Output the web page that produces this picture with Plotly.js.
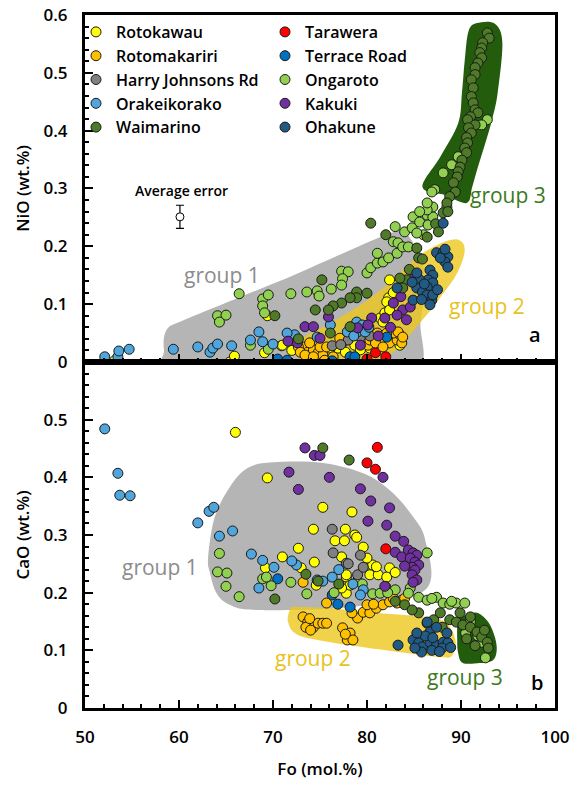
<!DOCTYPE html>
<html>
<head>
<meta charset="utf-8">
<script src="https://cdn.plot.ly/plotly-3.0.1.min.js"></script>
<style>body{margin:0;background:#fff}#chart{width:573px;height:787px}</style>
</head>
<body>
<div id="chart"></div>
<script>
// ---------------- DATA ----------------
const seriesNames = ["Rotokawau","Tarawera","Rotomakariri","Terrace Road","Harry Johnsons Rd","Ongaroto","Orakeikorako","Kakuki","Waimarino","Ohakune"];
const seriesColors = ["#ffff00","#ff0000","#ffc000","#0070c0","#808080","#92d050","#4fa5dc","#7030a0","#4f7a28","#215a84"];

// Panel a: Fo (mol.%) vs NiO (wt.%)
const rotokawau_fo_a = [53.2,65.4,65.9,69.4,69.1,70.9,71.0,76.9,81.4,81.7,81.9,82.3,82.4,83.5,82.1,82.4,76.1,78.7,80.3,77.7,79.3,82.8,72.0];
const rotokawau_nio  = [0.003,0.0,0.01,0.08,0.016,0.028,0.029,0.024,0.076,0.069,0.085,0.111,0.142,0.029,0.104,0.09,0.024,0.029,0.024,0.017,0.021,0.12,0.02];
const tarawera_fo_a = [80.0,80.9,82.0];
const tarawera_nio  = [0.005,0.016,0.009];
const rotomakariri_fo_a = [73.2,73.7,74.3,74.8,75.3,75.0,75.7,73.9,80.5,81.1,81.4,82.4,83.2,83.5,82.8,79.6,77.4,77.1,80.1,83.7,72.7,72.9,73.4,74.3,75.5,76.4,80.3,82.1,83.3,83.8,80.9,81.7];
const rotomakariri_nio  = [0.026,0.017,0.021,0.016,0.012,0.026,0.026,0.033,0.043,0.050,0.038,0.033,0.038,0.047,0.050,0.033,0.033,0.041,0.029,0.033,0.026,0.017,0.012,0.009,0.003,0.009,0.038,0.05,0.052,0.043,0.033,0.026];
const terrace_fo_a = [70.5,71.5,76.3,78.2,78.7,82.1];
const terrace_nio  = [0.005,0.003,0.002,0.009,0.009,0.043];
const harry_fo_a = [76.3,78.0,79.3,77.2,80.3];
const harry_nio  = [0.028,0.038,0.043,0.030,0.045];
const ongaroto_fo_a = [66.4,64.1,65.0,64.3,68.9,69.5,68.9,69.1,71.9,67.6,69.5,73.6,74.7,74.9,76.2,77.3,78.0,77.4,77.3,80.0,80.4,81.1,81.7,81.1,82.3,83.2,82.8,83.3,83.8,84.4,83.0,84.0,84.8,84.9,85.6,86.4,86.5,87.0,86.0,85.3,88.5,87.0,86.4,85.6,92.8,92.2,89.7,89.0,88.1,87.2,86.9,86.4];
const ongaroto_nio  = [0.118,0.08,0.081,0.069,0.109,0.116,0.097,0.085,0.118,0.029,0.022,0.121,0.123,0.114,0.126,0.157,0.156,0.144,0.133,0.154,0.163,0.171,0.173,0.188,0.180,0.188,0.208,0.206,0.199,0.199,0.234,0.225,0.232,0.251,0.242,0.254,0.237,0.251,0.220,0.223,0.268,0.268,0.263,0.26,0.419,0.41,0.355,0.341,0.327,0.298,0.294,0.275];
const orakei_fo_a = [52.1,53.5,53.6,54.7,59.4,62.0,63.3,63.6,64.1,65.6,67.6,68.5,68.9,70.0,72.3,78.9,79.5,78.4,79.0,77.9,79.8,76.1,74.7,71.5,78.6,80.2];
const orakei_nio  = [0.009,0.009,0.019,0.022,0.022,0.026,0.017,0.024,0.031,0.028,0.038,0.052,0.035,0.031,0.047,0.069,0.064,0.059,0.052,0.052,0.052,0.064,0.043,0.05,0.045,0.06];
const kakuki_fo_a = [71.6,82.8,83.8,84.6,85.1,83.6,83.2,84.2,81.9,80.5,80.1,79.0,75.9,73.4,74.3,75.0,72.6,79.3,82.5,81.2];
const kakuki_nio  = [0.036,0.102,0.09,0.095,0.15,0.113,0.081,0.073,0.076,0.076,0.064,0.059,0.078,0.061,0.061,0.041,0.033,0.029,0.06,0.045];
const waimarino_fo_a = [70.2,80.4,82.0,85.3,85.5,85.9,86.4,87.3,88.1,87.6,84.2,83.8,80.0,78.9,78.9,78.2,77.3,76.4,75.9,74.5,75.2,76.1,78.2,72.7,83.5,84.5,
  92.8,93.0,92.3,92.2,92.0,92.2,91.8,91.5,91.5,91.1,91.3,91.1,91.3,91.5,91.8,91.0,90.7,91.5,90.8,91.1,90.6,90.7,90.4,90.6,90.1,89.9,89.7,89.6,89.2,89.4,88.8,88.5,88.6];
const waimarino_nio  = [0.08,0.240,0.22,0.197,0.18,0.178,0.216,0.239,0.258,0.225,0.142,0.128,0.119,0.121,0.111,0.111,0.102,0.097,0.09,0.09,0.142,0.05,0.061,0.04,0.145,0.16,
  0.569,0.56,0.552,0.543,0.535,0.526,0.517,0.509,0.497,0.488,0.474,0.459,0.448,0.436,0.431,0.424,0.419,0.41,0.405,0.396,0.388,0.379,0.37,0.362,0.349,0.337,0.329,0.32,0.31,0.294,0.286,0.275,0.26];
const ohakune_fo_a = [87.4,88.1,88.6,88.3,88.6,87.8,88.1,86.7,87.0,86.5,87.0,86.4,85.6,85.3,85.9,86.4,86.9,87.0,86.7,84.9,84.8,85.3,83.2,86.1,85.8,87.5,88.3];
const ohakune_nio  = [0.189,0.189,0.182,0.173,0.164,0.18,0.24,0.159,0.15,0.142,0.137,0.13,0.142,0.128,0.121,0.116,0.107,0.116,0.099,0.107,0.138,0.154,0.128,0.135,0.108,0.125,0.195];

// Panel b: Fo (mol.%) vs CaO (wt.%)
const rotokawau_fo_b = [66.0,69.4,71.0,69.2,72.7,75.3,74.3,77.7,76.6,77.6,74.4,73.0,77.3,77.8,74.6,77.6,77.8,78.4,78.7,79.6,80.6,82.4,77.8,78.2,77.3,80.3,81.2,82.1,79.0,80.0,81.0,82.0,83.0,78.9];
const rotokawau_cao  = [0.478,0.399,0.262,0.243,0.277,0.348,0.31,0.31,0.29,0.29,0.253,0.243,0.262,0.227,0.213,0.21,0.199,0.34,0.3,0.279,0.248,0.243,0.231,0.213,0.208,0.231,0.231,0.227,0.22,0.26,0.245,0.21,0.235,0.296];
const tarawera_fo_b = [81.1,80.0,80.9,82.0];
const tarawera_cao  = [0.452,0.425,0.414,0.276];
const rotomakariri_fo_b = [73.2,75.7,73.2,73.7,74.3,74.8,75.3,75.7,73.5,73.9,74.0,77.4,78.2,77.9,78.5,77.7,79.0,79.6,80.3,81.0,81.7,82.4,83.2,83.7,80.0,78.4,80.7,82.8,84.0];
const rotomakariri_cao  = [0.218,0.182,0.158,0.149,0.14,0.147,0.147,0.147,0.14,0.155,0.135,0.139,0.13,0.118,0.118,0.128,0.156,0.166,0.165,0.173,0.179,0.184,0.182,0.187,0.179,0.165,0.18,0.19,0.19];
const terrace_fo_b = [70.5,76.3,78.2,76.9];
const terrace_cao  = [0.224,0.196,0.175,0.18];
const harry_fo_b = [76.3,76.4,77.8,79.3,79.0,79.6,78.0];
const harry_cao  = [0.31,0.269,0.251,0.265,0.231,0.244,0.25];
const ongaroto_fo_b = [64.3,64.1,65.1,65.0,66.4,68.9,69.8,71.9,73.6,69.3,86.4,84.6,80.6,81.4,85.5,86.4,87.4,88.1,88.8,89.5,90.4,84.4,90.5,92.2,92.6,83.0,82.2,86.9,89.0,91.0,91.8,79.5,76.5];
const ongaroto_cao  = [0.268,0.236,0.234,0.211,0.193,0.224,0.212,0.218,0.198,0.227,0.269,0.208,0.198,0.199,0.192,0.187,0.192,0.182,0.18,0.182,0.182,0.199,0.13,0.114,0.087,0.205,0.2,0.19,0.185,0.15,0.125,0.215,0.2];
const orakei_fo_b = [52.1,53.5,53.7,54.8,62.0,63.2,63.7,64.3,65.7,67.7,68.9,70.1,68.5,72.5,74.7,75.3,76.3,79.6,79.3,77.0,78.5,72.0];
const orakei_cao  = [0.484,0.407,0.369,0.368,0.321,0.341,0.348,0.298,0.307,0.267,0.256,0.244,0.208,0.248,0.222,0.22,0.227,0.205,0.196,0.24,0.215,0.255];
const kakuki_fo_b = [71.7,72.7,73.4,74.4,75.0,76.0,81.7,79.3,80.4,82.4,80.1,82.1,83.0,83.9,83.0,83.7,84.4,84.9,85.3,84.6,85.1,85.5,84.8,85.1,84.8,85.3,84.9,81.9,84.0];
const kakuki_cao  = [0.409,0.379,0.451,0.438,0.438,0.40,0.40,0.38,0.359,0.347,0.324,0.317,0.298,0.289,0.27,0.262,0.274,0.269,0.265,0.26,0.253,0.248,0.244,0.239,0.231,0.222,0.218,0.211,0.246];
const waimarino_fo_b = [70.2,75.3,78.1,85.5,86.4,87.1,87.8,88.8,89.5,90.2,91.0,91.7,92.2,92.8,92.9,84.0,91.0,74.8,83.0,84.8,90.6,91.5,89.9,88.0,92.5,73.5,77.0];
const waimarino_cao  = [0.189,0.451,0.43,0.165,0.147,0.153,0.165,0.153,0.149,0.144,0.14,0.132,0.123,0.114,0.104,0.179,0.158,0.22,0.185,0.17,0.12,0.108,0.165,0.14,0.135,0.232,0.215];
const ohakune_fo_b = [86.4,86.7,84.9,85.5,85.9,86.7,87.4,88.1,88.6,88.0,86.9,85.8,85.1,88.5,83.3,87.4,86.2,87.0,88.9,85.3,87.7];
const ohakune_cao  = [0.149,0.132,0.118,0.113,0.106,0.114,0.109,0.114,0.113,0.104,0.1,0.097,0.104,0.13,0.109,0.14,0.125,0.122,0.105,0.13,0.098];

// Average error marker
const avgErrFo = [60.1];
const avgErrNiO = [0.251];
const avgErrBar = [0.02];

// Group outlines [Fo, oxide]
const group1_a = [[59.2,-0.02],[58.4,0.02],[58.7,0.056],[60.6,0.073],[66,0.109],[72.3,0.151],[78,0.192],[82.2,0.221],[84.0,0.224],[85.4,0.19],[86.2,0.142],[85.7,0.07],[84.8,-0.02],[72,-0.02]];
const group2_a = [[72.0,0.03],[72.6,0.008],[75.3,-0.003],[79,0.0],[82.4,0.012],[85.6,0.067],[87.8,0.112],[89.6,0.154],[90.4,0.194],[89.6,0.212],[87.4,0.202],[84.9,0.176],[82.4,0.137],[79.6,0.102],[76.1,0.067],[73.2,0.043]];
const group3_a = [[91.7,0.586],[93.6,0.585],[94.4,0.552],[93.9,0.465],[93.3,0.419],[92.6,0.379],[91.8,0.337],[91.2,0.303],[90.6,0.275],[88.2,0.289],[85.9,0.303],[87.8,0.355],[89.7,0.413],[90.1,0.465],[90.4,0.522],[90.8,0.572]];
const group1_b = [[63.3,0.234],[63.1,0.262],[63.8,0.331],[65.4,0.383],[67.3,0.416],[70.0,0.426],[75.3,0.425],[79.6,0.407],[82.4,0.378],[84.6,0.338],[86.2,0.291],[86.2,0.205],[78.2,0.175],[68.3,0.170],[65.4,0.179],[64.0,0.199]];
const group2_b = [[71.8,0.170],[71.6,0.149],[72.6,0.127],[76.1,0.114],[82,0.1],[87.8,0.088],[89.1,0.092],[89.4,0.118],[88.3,0.149],[85.6,0.159],[80,0.166],[76.1,0.173],[72.3,0.175]];
const group3_b = [[89.7,0.153],[90.6,0.161],[91.7,0.165],[92.9,0.149],[93.6,0.123],[93.8,0.10],[93.4,0.083],[92.0,0.078],[90.2,0.078],[89.7,0.095],[89.6,0.118]];

// ---------------- BUILD ----------------
const panelA = [[rotokawau_fo_a,rotokawau_nio],[tarawera_fo_a,tarawera_nio],[rotomakariri_fo_a,rotomakariri_nio],[terrace_fo_a,terrace_nio],[harry_fo_a,harry_nio],[ongaroto_fo_a,ongaroto_nio],[orakei_fo_a,orakei_nio],[kakuki_fo_a,kakuki_nio],[waimarino_fo_a,waimarino_nio],[ohakune_fo_a,ohakune_nio]];
const panelB = [[rotokawau_fo_b,rotokawau_cao],[tarawera_fo_b,tarawera_cao],[rotomakariri_fo_b,rotomakariri_cao],[terrace_fo_b,terrace_cao],[harry_fo_b,harry_cao],[ongaroto_fo_b,ongaroto_cao],[orakei_fo_b,orakei_cao],[kakuki_fo_b,kakuki_cao],[waimarino_fo_b,waimarino_cao],[ohakune_fo_b,ohakune_cao]];

const traces = [];
seriesNames.forEach((name,i)=>{
  const mk = {color:seriesColors[i], size:10, line:{color:'#1a1a1a', width:1}};
  traces.push({type:'scatter', mode:'markers', name:name, legendgroup:name, x:panelA[i][0], y:panelA[i][1], xaxis:'x', yaxis:'y', marker:mk, cliponaxis:true});
  traces.push({type:'scatter', mode:'markers', name:name, legendgroup:name, showlegend:false, x:panelB[i][0], y:panelB[i][1], xaxis:'x2', yaxis:'y2', marker:mk, cliponaxis:true});
});
traces.push({type:'scatter', mode:'markers', x:avgErrFo, y:avgErrNiO, xaxis:'x', yaxis:'y', showlegend:false,
  marker:{color:'#fff', size:8, line:{color:'#000', width:1}},
  error_y:{type:'data', array:avgErrBar, color:'#000', thickness:1.2, width:4}});

function smoothPath(pts){
  const n = pts.length;
  let d = 'M ' + pts[0][0] + ',' + pts[0][1];
  for(let i=0;i<n;i++){
    const p0 = pts[(i-1+n)%n], p1 = pts[i], p2 = pts[(i+1)%n], p3 = pts[(i+2)%n];
    const t = 1/6;
    const c1 = [p1[0]+(p2[0]-p0[0])*t, p1[1]+(p2[1]-p0[1])*t];
    const c2 = [p2[0]-(p3[0]-p1[0])*t, p2[1]-(p3[1]-p1[1])*t];
    d += ' C ' + c1[0]+','+c1[1]+' '+c2[0]+','+c2[1]+' '+p2[0]+','+p2[1];
  }
  return d + ' Z';
}
function region(pts, xr, yr, color){
  return {type:'path', path:smoothPath(pts), xref:xr, yref:yr, fillcolor:color, line:{width:0}, layer:'below'};
}
const shapes = [
  region(group1_a,'x','y','#b5b5b5'),
  region(group2_a,'x','y','rgba(238,200,30,0.8)'),
  region(group3_a,'x','y','#245c0d'),
  region(group1_b,'x2','y2','#b5b5b5'),
  region(group2_b,'x2','y2','rgba(238,200,30,0.8)'),
  region(group3_b,'x2','y2','#245c0d')
];

const F = '"Open Sans", Lato, sans-serif';
const W = 600;
const axisBase = {showline:true, linewidth:3, linecolor:'#000', mirror:true, showgrid:false, zeroline:false,
  ticks:'inside', ticklen:8, tickwidth:2, tickcolor:'#000',
  tickfont:{family:F, size:17, color:'#000', weight:W}};
const layout = {
  width:573, height:787,
  margin:{l:85, r:18, t:15, b:79},
  paper_bgcolor:'#fff', plot_bgcolor:'#fff',
  font:{family:F, size:16, color:'#000'},
  showlegend:true,
  legend:{orientation:'h', x:0, y:1, xanchor:'left', yanchor:'top', indentation:-9, entrywidth:153, entrywidthmode:'pixels',
    bgcolor:'rgba(0,0,0,0)', borderwidth:0, traceorder:'normal', font:{family:F, size:16, color:'#000', weight:W}},
  xaxis:Object.assign({}, axisBase, {anchor:'y', domain:[0,1], range:[50,100], dtick:10, tick0:50, showticklabels:false,
    minor:{dtick:2, ticks:'inside', ticklen:4, tickwidth:2, tickcolor:'#000'}}),
  yaxis:Object.assign({}, axisBase, {anchor:'x', domain:[0.4993,1], range:[0,0.6], dtick:0.1, tick0:0, ticklabelstandoff:11,
    minor:{dtick:0.02, ticks:'inside', ticklen:4, tickwidth:2, tickcolor:'#000'},
    title:{text:'NiO (wt.%)', font:{family:F, size:17, color:'#000', weight:W}, standoff:10}}),
  xaxis2:Object.assign({}, axisBase, {anchor:'y2', domain:[0,1], range:[50,100], dtick:10, tick0:50, ticklabelstandoff:12,
    minor:{dtick:2, ticks:'inside', ticklen:4, tickwidth:2, tickcolor:'#000'},
    title:{text:'Fo (mol.%)', font:{family:F, size:17, color:'#000', weight:W}, standoff:16}}),
  yaxis2:Object.assign({}, axisBase, {anchor:'x2', domain:[0,0.4993], range:[0,0.6], tickmode:'array', tickvals:[0,0.1,0.2,0.3,0.4,0.5], ticktext:['0','0.1','0.2','0.3','0.4','0.5'], ticklabelstandoff:11,
    minor:{tickmode:'linear', dtick:0.02, tick0:0, ticks:'inside', ticklen:4, tickwidth:2, tickcolor:'#000'},
    title:{text:'CaO (wt.%)', font:{family:F, size:17, color:'#000', weight:W}, standoff:10}}),
  shapes:shapes,
  annotations:[
    {xref:'x', yref:'y', x:60.3, y:0.296, text:'Average error', showarrow:false, font:{family:F, size:14, color:'#000', weight:W}},
    {xref:'x', yref:'y', x:64.6, y:0.15, text:'group 1', showarrow:false, font:{family:F, size:21, color:'#8c8c8c'}},
    {xref:'x', yref:'y', x:92.8, y:0.097, text:'group 2', showarrow:false, font:{family:F, size:21, color:'#e8c21c'}},
    {xref:'x', yref:'y', x:95.0, y:0.289, text:'group 3', showarrow:false, font:{family:F, size:21, color:'#3b7a1b'}},
    {xref:'x', yref:'y', x:97.9, y:0.047, text:'a', showarrow:false, font:{family:F, size:20, color:'#000', weight:W}},
    {xref:'x2', yref:'y2', x:58.0, y:0.244, text:'group 1', showarrow:false, font:{family:F, size:21, color:'#8c8c8c'}},
    {xref:'x2', yref:'y2', x:74.3, y:0.087, text:'group 2', showarrow:false, font:{family:F, size:21, color:'#e8c21c'}},
    {xref:'x2', yref:'y2', x:90.4, y:0.054, text:'group 3', showarrow:false, font:{family:F, size:21, color:'#3b7a1b'}},
    {xref:'x2', yref:'y2', x:98.1, y:0.045, text:'b', showarrow:false, font:{family:F, size:20, color:'#000', weight:W}}
  ]
};
Plotly.newPlot('chart', traces, layout, {displayModeBar:false, staticPlot:true});
</script>
</body>
</html>
